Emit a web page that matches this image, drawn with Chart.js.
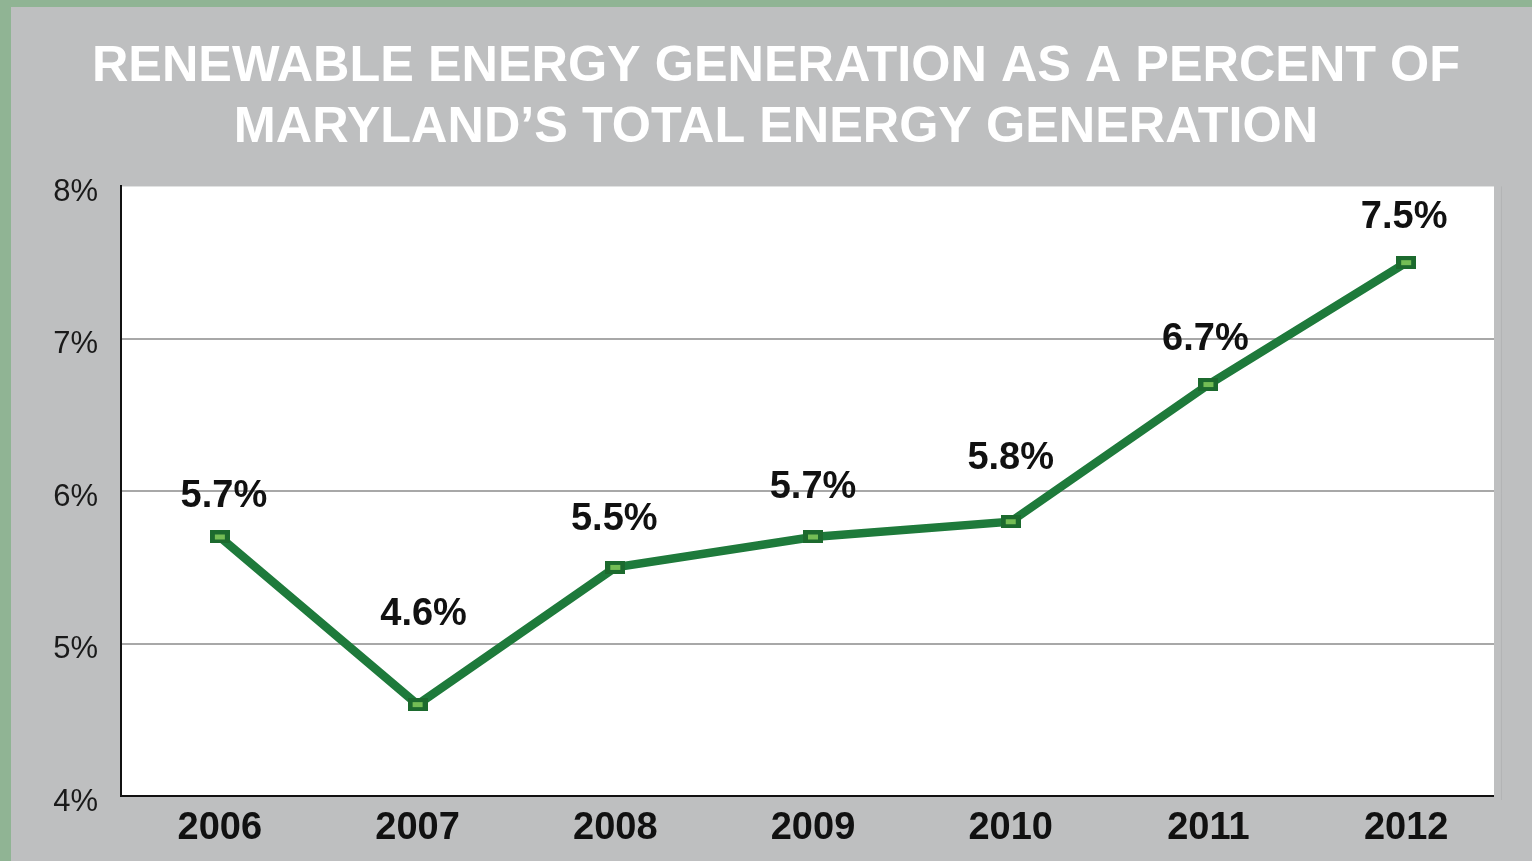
<!DOCTYPE html>
<html>
<head>
<meta charset="utf-8">
<script src="https://cdn.jsdelivr.net/npm/chart.js@4.4.0/dist/chart.umd.min.js"></script>
<style>
  html, body { margin: 0; padding: 0; background: #90b494; }
  body { width: 1532px; height: 861px; position: relative; overflow: hidden; }
  #panel {
    position: absolute; left: 11px; top: 7px;
    width: 1521px; height: 854px;
    background: #bebfc0;
  }
</style>
</head>
<body>
<div id="panel"><canvas id="chart"></canvas></div>
<script>
// Chart data
const years = ['2006', '2007', '2008', '2009', '2010', '2011', '2012'];
const renewableShare = [5.7, 4.6, 5.5, 5.7, 5.8, 6.7, 7.5];
const titleLines = [
    'RENEWABLE ENERGY GENERATION AS A PERCENT OF',
    'MARYLAND\u2019S TOTAL ENERGY GENERATION'
];

// label offsets above each point (px)
const labelLift = [40, 90, 48, 49, 63, 45, 45];
const labelShift = [4, 6, -1, 0, 0, -3, -2];

const PANEL_GREY = '#bebfc0';
const RIGHT_GAP = 11; // category axis runs a bit past the white plot box

// wide rectangular marker like the original
function makeMarker() {
    const c = document.createElement('canvas');
    c.width = 20;
    c.height = 13;
    const g = c.getContext('2d');
    g.fillStyle = '#1c6a2e';
    g.fillRect(0, 0, 20, 13);
    g.fillStyle = '#74bd55';
    g.fillRect(5, 4, 10, 5);
    return c;
}

// white plot background
const plotBackground = {
    id: 'plotBackground',
    beforeDraw(chart) {
        const { ctx, chartArea } = chart;
        ctx.save();
        ctx.fillStyle = '#ffffff';
        ctx.fillRect(chartArea.left, chartArea.top, chartArea.right - RIGHT_GAP - chartArea.left, chartArea.bottom - chartArea.top);
        ctx.restore();
    },
    beforeDatasetsDraw(chart) {
        // trim grid lines / axis line back to the white box
        const { ctx, chartArea } = chart;
        ctx.save();
        ctx.fillStyle = PANEL_GREY;
        ctx.fillRect(chartArea.right - RIGHT_GAP, chartArea.top - 2, RIGHT_GAP + 2, chartArea.bottom - chartArea.top + 4);
        ctx.strokeStyle = '#b3b4b5';
        ctx.lineWidth = 1;
        ctx.beginPath();
        ctx.moveTo(chartArea.right - 3.5, chartArea.top);
        ctx.lineTo(chartArea.right - 3.5, chartArea.bottom + 4);
        ctx.stroke();
        ctx.restore();
    }
};

// value labels above the points
const valueLabels = {
    id: 'valueLabels',
    afterDatasetsDraw(chart) {
        const ctx = chart.ctx;
        const meta = chart.getDatasetMeta(0);
        ctx.save();
        ctx.font = 'bold 38px "Liberation Sans", Arial, sans-serif';
        ctx.fillStyle = '#111111';
        ctx.textAlign = 'center';
        ctx.textBaseline = 'middle';
        meta.data.forEach((pt, i) => {
            ctx.fillText(renewableShare[i].toFixed(1) + '%', pt.x + labelShift[i], pt.y - labelLift[i]);
        });
        ctx.restore();
    }
};

const ctx = document.getElementById('chart').getContext('2d');

new Chart(ctx, {
    type: 'line',
    data: {
        labels: years,
        datasets: [{
            data: renewableShare,
            borderColor: '#1e7a3b',
            borderWidth: 8.5,
            tension: 0,
            pointStyle: makeMarker(),
            pointRadius: 8,
            pointHoverRadius: 8
        }]
    },
    options: {
        responsive: true,
        maintainAspectRatio: false,
        animation: false,
        layout: { padding: { left: 36, right: 27, top: 0, bottom: 0 } },
        plugins: {
            legend: { display: false },
            tooltip: { enabled: false },
            title: {
                display: true,
                text: titleLines,
                color: '#ffffff',
                font: { family: '"Liberation Sans", Arial, sans-serif', size: 50.4, weight: 'bold', lineHeight: 1.2 },
                padding: { top: 30, bottom: 28.5 }
            }
        },
        scales: {
            x: {
                offset: true,
                grid: { display: false, drawTicks: false },
                border: { display: true, color: '#111111', width: 2 },
                ticks: {
                    color: '#111111',
                    padding: 10,
                    font: { family: '"Liberation Sans", Arial, sans-serif', size: 38, weight: 'bold' }
                },
                afterFit: s => { s.height = 65; }
            },
            y: {
                min: 4,
                max: 8,
                grid: {
                    drawTicks: false,
                    color: c => (c.tick && (c.tick.value === 8 || c.tick.value === 4)) ? 'rgba(0,0,0,0)' : '#a8a8a8',
                    lineWidth: 2
                },
                border: { display: true, color: '#111111', width: 2 },
                ticks: {
                    stepSize: 1,
                    color: '#1a1a1a',
                    padding: 23,
                    labelOffset: 6,
                    font: { family: '"Liberation Sans", Arial, sans-serif', size: 31 },
                    callback: v => v + '%'
                },
                afterFit: s => { s.width = 74; }
            }
        }
    },
    plugins: [plotBackground, valueLabels]
});
</script>
</body>
</html>
